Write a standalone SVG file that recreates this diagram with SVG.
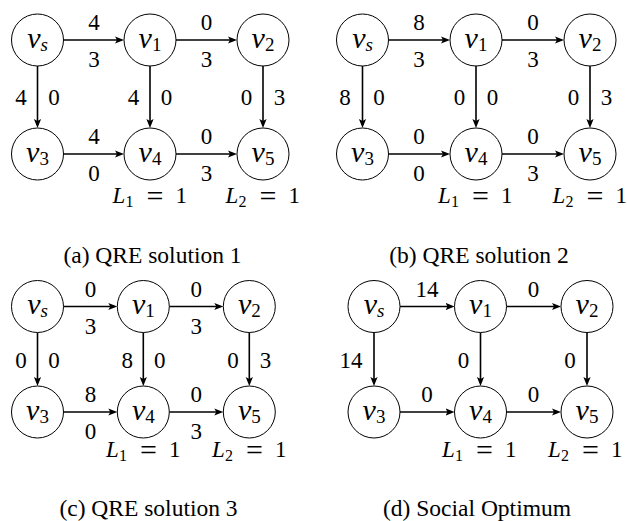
<svg xmlns="http://www.w3.org/2000/svg" width="627" height="521" viewBox="0 0 627 521" font-family="'Liberation Serif', 'Times New Roman', serif">
<style>
circle.node{fill:#ffffff;stroke:#000000;stroke-width:1}
line.edge{stroke:#000000;stroke-width:1.6;fill:none}
</style>
<defs>
<marker id="ah" markerUnits="userSpaceOnUse" markerWidth="12" markerHeight="10" refX="6" refY="0" viewBox="0 -5 12 10" orient="auto">
<path d="M0,-3.6 L9,0 L0,3.6 L2,0 Z" fill="#000"/>
</marker>
</defs>

<!-- Panel (a) -->
<g id="panel-a">
<g id="a-connectors">
<line class="edge" marker-end="url(#ah)" x1="63.5" y1="40" x2="121" y2="40"/>
<line class="edge" marker-end="url(#ah)" x1="176" y1="40" x2="234" y2="40"/>
<line class="edge" marker-end="url(#ah)" x1="63.5" y1="154" x2="121" y2="154"/>
<line class="edge" marker-end="url(#ah)" x1="176" y1="154" x2="234" y2="154"/>
<line class="edge" marker-end="url(#ah)" x1="37.5" y1="66" x2="37.5" y2="125"/>
<line class="edge" marker-end="url(#ah)" x1="150" y1="66" x2="150" y2="125"/>
<line class="edge" marker-end="url(#ah)" x1="263" y1="66" x2="263" y2="125"/>
</g>
<g id="a-edge-labels" font-size="23" text-anchor="middle" fill="#000">
<text x="94" y="30">4</text><text x="94" y="67">3</text>
<text x="206.5" y="30">0</text><text x="206.5" y="67">3</text>
<text x="94" y="144">4</text><text x="94" y="181">0</text>
<text x="206.5" y="144">0</text><text x="206.5" y="181">3</text>
<text x="21" y="105">4</text><text x="54" y="105">0</text>
<text x="133.5" y="105">4</text><text x="166.5" y="105">0</text>
<text x="246.5" y="105">0</text><text x="279.5" y="105">3</text>
</g>
<g id="a-vs"><circle class="node" cx="37.5" cy="40" r="26"/><text x="37.5" y="47.5" font-size="30" font-style="italic" text-anchor="middle">v<tspan font-size="19" dy="3">s</tspan></text></g>
<g id="a-v1"><circle class="node" cx="150" cy="40" r="26"/><text x="150" y="47.5" font-size="30" font-style="italic" text-anchor="middle">v<tspan font-size="19" font-style="normal" dy="3">1</tspan></text></g>
<g id="a-v2"><circle class="node" cx="263" cy="40" r="26"/><text x="263" y="47.5" font-size="30" font-style="italic" text-anchor="middle">v<tspan font-size="19" font-style="normal" dy="3">2</tspan></text></g>
<g id="a-v3"><circle class="node" cx="37.5" cy="154" r="26"/><text x="37.5" y="161.5" font-size="30" font-style="italic" text-anchor="middle">v<tspan font-size="19" font-style="normal" dy="3">3</tspan></text></g>
<g id="a-v4"><circle class="node" cx="150" cy="154" r="26"/><text x="150" y="161.5" font-size="30" font-style="italic" text-anchor="middle">v<tspan font-size="19" font-style="normal" dy="3">4</tspan></text></g>
<g id="a-v5"><circle class="node" cx="263" cy="154" r="26"/><text x="263" y="161.5" font-size="30" font-style="italic" text-anchor="middle">v<tspan font-size="19" font-style="normal" dy="3">5</tspan></text></g>
<text x="112.5" y="203" font-size="23" font-style="italic">L<tspan font-size="16" font-style="normal" x="125.5" dy="4">1</tspan><tspan font-size="30" font-style="normal" x="146.5" dy="-1">=</tspan><tspan font-size="23" font-style="normal" x="175.5" dy="-3">1</tspan></text>
<text x="225.5" y="203" font-size="23" font-style="italic">L<tspan font-size="16" font-style="normal" x="238.5" dy="4">2</tspan><tspan font-size="30" font-style="normal" x="259.5" dy="-1">=</tspan><tspan font-size="23" font-style="normal" x="288.5" dy="-3">1</tspan></text>
<text x="152.5" y="263" font-size="23.5" text-anchor="middle">(a) QRE solution 1</text>
</g>

<!-- Panel (b) -->
<g id="panel-b">
<g id="b-connectors">
<line class="edge" marker-end="url(#ah)" x1="388.5" y1="40" x2="447" y2="40"/>
<line class="edge" marker-end="url(#ah)" x1="502" y1="40" x2="561" y2="40"/>
<line class="edge" marker-end="url(#ah)" x1="388.5" y1="154" x2="447" y2="154"/>
<line class="edge" marker-end="url(#ah)" x1="502" y1="154" x2="561" y2="154"/>
<line class="edge" marker-end="url(#ah)" x1="362.5" y1="66" x2="362.5" y2="125"/>
<line class="edge" marker-end="url(#ah)" x1="476" y1="66" x2="476" y2="125"/>
<line class="edge" marker-end="url(#ah)" x1="590" y1="66" x2="590" y2="125"/>
</g>
<g id="b-edge-labels" font-size="23" text-anchor="middle" fill="#000">
<text x="419" y="30">8</text><text x="419" y="67">3</text>
<text x="533" y="30">0</text><text x="533" y="67">3</text>
<text x="419" y="144">0</text><text x="419" y="181">0</text>
<text x="533" y="144">0</text><text x="533" y="181">3</text>
<text x="345" y="105">8</text><text x="379" y="105">0</text>
<text x="459.5" y="105">0</text><text x="492.5" y="105">0</text>
<text x="573.5" y="105">0</text><text x="606.5" y="105">3</text>
</g>
<g id="b-vs"><circle class="node" cx="362.5" cy="40" r="26"/><text x="362.5" y="47.5" font-size="30" font-style="italic" text-anchor="middle">v<tspan font-size="19" dy="3">s</tspan></text></g>
<g id="b-v1"><circle class="node" cx="476" cy="40" r="26"/><text x="476" y="47.5" font-size="30" font-style="italic" text-anchor="middle">v<tspan font-size="19" font-style="normal" dy="3">1</tspan></text></g>
<g id="b-v2"><circle class="node" cx="590" cy="40" r="26"/><text x="590" y="47.5" font-size="30" font-style="italic" text-anchor="middle">v<tspan font-size="19" font-style="normal" dy="3">2</tspan></text></g>
<g id="b-v3"><circle class="node" cx="362.5" cy="154" r="26"/><text x="362.5" y="161.5" font-size="30" font-style="italic" text-anchor="middle">v<tspan font-size="19" font-style="normal" dy="3">3</tspan></text></g>
<g id="b-v4"><circle class="node" cx="476" cy="154" r="26"/><text x="476" y="161.5" font-size="30" font-style="italic" text-anchor="middle">v<tspan font-size="19" font-style="normal" dy="3">4</tspan></text></g>
<g id="b-v5"><circle class="node" cx="590" cy="154" r="26"/><text x="590" y="161.5" font-size="30" font-style="italic" text-anchor="middle">v<tspan font-size="19" font-style="normal" dy="3">5</tspan></text></g>
<text x="438" y="203" font-size="23" font-style="italic">L<tspan font-size="16" font-style="normal" x="451" dy="4">1</tspan><tspan font-size="30" font-style="normal" x="472" dy="-1">=</tspan><tspan font-size="23" font-style="normal" x="501" dy="-3">1</tspan></text>
<text x="552.5" y="203" font-size="23" font-style="italic">L<tspan font-size="16" font-style="normal" x="565.5" dy="4">2</tspan><tspan font-size="30" font-style="normal" x="586.5" dy="-1">=</tspan><tspan font-size="23" font-style="normal" x="615.5" dy="-3">1</tspan></text>
<text x="479" y="263" font-size="23.5" text-anchor="middle">(b) QRE solution 2</text>
</g>

<!-- Panel (c) -->
<g id="panel-c">
<g id="c-connectors">
<line class="edge" marker-end="url(#ah)" x1="63.5" y1="306.5" x2="114.3" y2="306.5"/>
<line class="edge" marker-end="url(#ah)" x1="169.3" y1="306.5" x2="220.3" y2="306.5"/>
<line class="edge" marker-end="url(#ah)" x1="63.5" y1="412" x2="114.3" y2="412"/>
<line class="edge" marker-end="url(#ah)" x1="169.3" y1="412" x2="220.3" y2="412"/>
<line class="edge" marker-end="url(#ah)" x1="37.5" y1="332.5" x2="37.5" y2="383"/>
<line class="edge" marker-end="url(#ah)" x1="143.3" y1="332.5" x2="143.3" y2="383"/>
<line class="edge" marker-end="url(#ah)" x1="249.3" y1="332.5" x2="249.3" y2="383"/>
</g>
<g id="c-edge-labels" font-size="23" text-anchor="middle" fill="#000">
<text x="90.4" y="296.5">0</text><text x="90.4" y="333.5">3</text>
<text x="196.3" y="296.5">0</text><text x="196.3" y="333.5">3</text>
<text x="90.4" y="402">8</text><text x="90.4" y="439">0</text>
<text x="196.3" y="402">0</text><text x="196.3" y="439">3</text>
<text x="21" y="367.5">0</text><text x="54" y="367.5">0</text>
<text x="127.3" y="367.5">8</text><text x="159.8" y="367.5">0</text>
<text x="233" y="367.5">0</text><text x="265.5" y="367.5">3</text>
</g>
<g id="c-vs"><circle class="node" cx="37.5" cy="306.5" r="26"/><text x="37.5" y="314" font-size="30" font-style="italic" text-anchor="middle">v<tspan font-size="19" dy="3">s</tspan></text></g>
<g id="c-v1"><circle class="node" cx="143.3" cy="306.5" r="26"/><text x="143.3" y="314" font-size="30" font-style="italic" text-anchor="middle">v<tspan font-size="19" font-style="normal" dy="3">1</tspan></text></g>
<g id="c-v2"><circle class="node" cx="249.3" cy="306.5" r="26"/><text x="249.3" y="314" font-size="30" font-style="italic" text-anchor="middle">v<tspan font-size="19" font-style="normal" dy="3">2</tspan></text></g>
<g id="c-v3"><circle class="node" cx="37.5" cy="412" r="26"/><text x="37.5" y="419.5" font-size="30" font-style="italic" text-anchor="middle">v<tspan font-size="19" font-style="normal" dy="3">3</tspan></text></g>
<g id="c-v4"><circle class="node" cx="143.3" cy="412" r="26"/><text x="143.3" y="419.5" font-size="30" font-style="italic" text-anchor="middle">v<tspan font-size="19" font-style="normal" dy="3">4</tspan></text></g>
<g id="c-v5"><circle class="node" cx="249.3" cy="412" r="26"/><text x="249.3" y="419.5" font-size="30" font-style="italic" text-anchor="middle">v<tspan font-size="19" font-style="normal" dy="3">5</tspan></text></g>
<text x="106" y="457" font-size="23" font-style="italic">L<tspan font-size="16" font-style="normal" x="119" dy="4">1</tspan><tspan font-size="30" font-style="normal" x="140" dy="-1">=</tspan><tspan font-size="23" font-style="normal" x="169" dy="-3">1</tspan></text>
<text x="212" y="457" font-size="23" font-style="italic">L<tspan font-size="16" font-style="normal" x="225" dy="4">2</tspan><tspan font-size="30" font-style="normal" x="246" dy="-1">=</tspan><tspan font-size="23" font-style="normal" x="275" dy="-3">1</tspan></text>
<text x="148.5" y="516" font-size="23.5" text-anchor="middle">(c) QRE solution 3</text>
</g>

<!-- Panel (d) -->
<g id="panel-d">
<g id="d-connectors">
<line class="edge" marker-end="url(#ah)" x1="400" y1="306.5" x2="451.5" y2="306.5"/>
<line class="edge" marker-end="url(#ah)" x1="506.5" y1="306.5" x2="558" y2="306.5"/>
<line class="edge" marker-end="url(#ah)" x1="400" y1="412" x2="451.5" y2="412"/>
<line class="edge" marker-end="url(#ah)" x1="506.5" y1="412" x2="558" y2="412"/>
<line class="edge" marker-end="url(#ah)" x1="374" y1="332.5" x2="374" y2="383"/>
<line class="edge" marker-end="url(#ah)" x1="480.5" y1="332.5" x2="480.5" y2="383"/>
<line class="edge" marker-end="url(#ah)" x1="587" y1="332.5" x2="587" y2="383"/>
</g>
<g id="d-edge-labels" font-size="23" text-anchor="middle" fill="#000">
<text x="427" y="296.5">14</text>
<text x="533.5" y="296.5">0</text>
<text x="427" y="402">0</text>
<text x="533.5" y="402">0</text>
<text x="351" y="367.5">14</text>
<text x="463.5" y="367.5">0</text>
<text x="570" y="367.5">0</text>
</g>
<g id="d-vs"><circle class="node" cx="374" cy="306.5" r="26"/><text x="374" y="314" font-size="30" font-style="italic" text-anchor="middle">v<tspan font-size="19" dy="3">s</tspan></text></g>
<g id="d-v1"><circle class="node" cx="480.5" cy="306.5" r="26"/><text x="480.5" y="314" font-size="30" font-style="italic" text-anchor="middle">v<tspan font-size="19" font-style="normal" dy="3">1</tspan></text></g>
<g id="d-v2"><circle class="node" cx="587" cy="306.5" r="26"/><text x="587" y="314" font-size="30" font-style="italic" text-anchor="middle">v<tspan font-size="19" font-style="normal" dy="3">2</tspan></text></g>
<g id="d-v3"><circle class="node" cx="374" cy="412" r="26"/><text x="374" y="419.5" font-size="30" font-style="italic" text-anchor="middle">v<tspan font-size="19" font-style="normal" dy="3">3</tspan></text></g>
<g id="d-v4"><circle class="node" cx="480.5" cy="412" r="26"/><text x="480.5" y="419.5" font-size="30" font-style="italic" text-anchor="middle">v<tspan font-size="19" font-style="normal" dy="3">4</tspan></text></g>
<g id="d-v5"><circle class="node" cx="587" cy="412" r="26"/><text x="587" y="419.5" font-size="30" font-style="italic" text-anchor="middle">v<tspan font-size="19" font-style="normal" dy="3">5</tspan></text></g>
<text x="442" y="457" font-size="23" font-style="italic">L<tspan font-size="16" font-style="normal" x="455" dy="4">1</tspan><tspan font-size="30" font-style="normal" x="476" dy="-1">=</tspan><tspan font-size="23" font-style="normal" x="505" dy="-3">1</tspan></text>
<text x="548" y="457" font-size="23" font-style="italic">L<tspan font-size="16" font-style="normal" x="561" dy="4">2</tspan><tspan font-size="30" font-style="normal" x="582" dy="-1">=</tspan><tspan font-size="23" font-style="normal" x="611" dy="-3">1</tspan></text>
<text x="477" y="516" font-size="23.5" text-anchor="middle">(d) Social Optimum</text>
</g>
</svg>
